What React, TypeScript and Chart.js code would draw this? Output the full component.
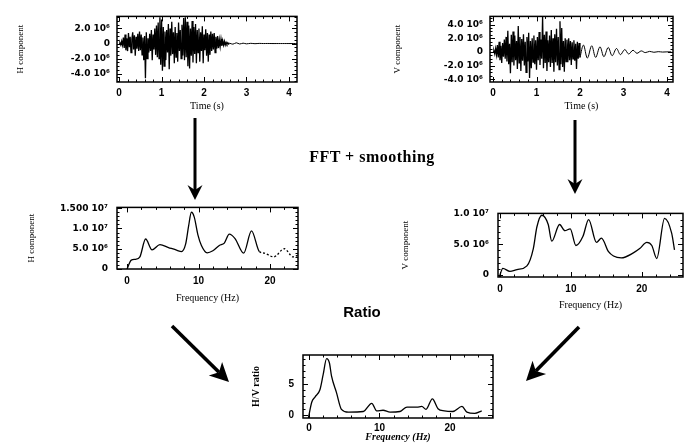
import React, { useEffect, useRef } from 'react';
import { Chart, registerables } from 'chart.js';

Chart.register(...registerables);

const SANS = '"DejaVu Sans", "Liberation Sans", Arial, sans-serif';
const SANS2 = '"Liberation Sans", Arial, sans-serif';
const SERIF = '"Liberation Serif", "Times New Roman", serif';

// ---------------- DATA ----------------
// Sampling step of the seismograms (s)
const DT = 0.02;

// H component seismogram, units of 1e6, t = 0 .. 2.60 s every DT
const H_TRACE = [
  0, 0.1, -0.2, 0.3, -0.2,
  0.8, -0.6, 1.2, -0.9, 0.7, -1.0, 1.4, -0.5, 0.9, -1.2, 0.6,
  1.5, -0.8, 1.1, -1.6, 0.9, -0.7, 1.3, -1.0, 1.6, -0.9,
  1.2, -1.5, 0.8, -2.2, 1.0, -4.6, 1.5, -2.0, 0.7, -1.2,
  1.3, -1.0, 1.8, -2.2, 1.2, -0.8, 2.0, -1.5, 2.4, -1.8,
  2.8, -2.0, 3.5, -2.8, 3.2, -3.6, 2.2, -3.0, 1.6, -2.2,
  1.8, -1.2, 2.6, -3.4, 2.0, -1.6, 2.9, -1.4, 1.5, -2.6,
  2.2, -1.8, 1.4, -2.4, 2.8, -1.0, 1.8, -2.0, 2.5, -1.6,
  3.4, -2.2, 3.5, -1.8, 2.9, -3.0, 2.4, -3.3, 2.0, -1.6,
  3.0, -2.5, 2.2, -1.4, 2.6, -2.6, 1.8, -1.2, 2.0, -2.4,
  1.5, -1.0, 2.3, -2.6, 1.2, -0.9, 1.9, -1.6, 1.4, -2.4,
  1.2, -1.5, 1.6, -1.0, 1.3, -0.8, 1.4, -1.2, 0.9, -0.7,
  1.0, -0.6, 0.5, -0.4, 0.6, -0.3, 0.4, -0.2, 0.3, -0.2,
  0.15, -0.1, 0.1, -0.05, 0.05,
];
const H_TAIL_T = [2.6, 2.68, 2.76, 2.84, 2.92, 3.0, 3.1, 3.2, 3.3, 3.4, 3.5, 3.6, 3.7, 3.8, 3.9, 4.0, 4.1, 4.2];
const H_TAIL_V = [0.05, -0.08, 0.1, -0.06, 0.05, -0.04, 0.03, -0.02, 0.02, 0, 0.01, 0, 0, 0, 0, 0, 0, 0];

// V component seismogram, units of 1e6, t = 0 .. 2.00 s every DT
const V_TRACE = [
  0, 0.2, -0.3, 0.5, -0.4,
  1.0, -0.8, 1.5, -1.2, 0.9, -1.6, 1.3, -0.7, 1.8, -1.0,
  2.2, -1.4, 3.1, -1.8, 1.2, -3.1, 2.5, -1.5, 3.0, -2.0,
  2.4, -1.2, 1.6, -2.5, 3.8, -1.6, 2.2, -2.8, 1.9, -1.3,
  2.6, -2.0, 1.5, -3.0, 2.2, -1.4, 2.8, -3.8, 1.6, -2.4,
  2.0, -1.5, 2.4, -1.8, 1.7, -2.6, 2.2, -1.2, 2.9, -1.9,
  1.8, -1.0, 5.2, -2.4, 2.5, -1.6, 3.0, -2.8, 1.7, -1.5,
  2.4, -2.2, 3.2, -1.6, 2.0, -2.9, 2.6, -1.5, 3.4, -2.0,
  2.2, -2.6, 4.5, -1.8, 3.5, -2.2, 1.6, -2.9, 2.0, -1.4,
  1.8, -1.5, 2.0, -1.2, 1.6, -1.9, 1.4, -1.0, 1.7, -1.3,
  1.2, -2.5, 1.5, -1.0, 1.3, -0.8,
];
const V_TAIL_T = [2.0, 2.08, 2.17, 2.27, 2.36, 2.46, 2.55, 2.65, 2.74, 2.84, 2.93, 3.03, 3.12, 3.22, 3.31, 3.41, 3.5, 3.6, 3.7, 3.8, 3.9, 4.0, 4.1];
const V_TAIL_V = [-0.8, 1.0, -0.9, 0.9, -0.8, 0.75, -0.7, 0.65, -0.55, 0.5, -0.4, 0.35, -0.3, 0.25, -0.2, 0.15, -0.1, 0.08, -0.05, 0.04, -0.02, 0.01, 0];

// H spectrum (units 1e6)
const HS_FREQ = [0, 0.6, 1.2, 1.8, 2.6, 3.5, 4.6, 5.8, 7.0, 7.6, 8.2, 8.6, 9.0, 9.4, 9.9, 10.4, 11.2, 12.0, 12.9, 13.6, 14.3, 15.1, 16.3, 17.4, 18.5, 19.2, 20.5, 22.0, 23.2, 24.0];
const HS_AMP = [0, 2.2, 2.4, 3.0, 7.4, 4.7, 6.0, 5.3, 4.6, 4.3, 6.2, 10.5, 14.0, 12.8, 8.5, 5.8, 4.0, 4.5, 5.8, 6.4, 8.6, 7.5, 3.9, 9.4, 4.3, 3.9, 3.0, 5.0, 3.0, 3.5];

// V spectrum (units 1e6)
const VS_FREQ = [-0.1, 0.4, 1.4, 2.4, 3.8, 4.7, 5.2, 5.9, 6.8, 7.3, 8.4, 9.15, 9.9, 10.7, 11.7, 12.5, 13.6, 14.3, 15.3, 16.0, 17.1, 18.8, 19.7, 20.7, 21.4, 22.1, 23.2, 24.2, 24.6];
const VS_AMP = [-0.3, 1.1, 0.6, 0.9, 1.5, 4.3, 7.8, 9.7, 8.2, 5.5, 8.2, 7.2, 7.5, 4.8, 6.3, 9.0, 5.3, 6.0, 3.8, 3.1, 2.8, 3.6, 4.3, 5.3, 4.8, 2.7, 9.2, 6.8, 4.1];

// H/V ratio
const HV_FREQ = [-0.1, 0.4, 0.85, 1.55, 2.0, 2.5, 2.9, 3.2, 3.9, 4.6, 5.6, 7.7, 8.9, 9.6, 10.5, 11.5, 12.9, 13.9, 15.3, 16.0, 16.6, 17.5, 18.3, 19.2, 20.4, 21.7, 22.4, 23.5, 24.5];
const HV_RATIO = [-0.5, 2.1, 2.9, 4.05, 6.4, 9.0, 8.3, 6.2, 3.6, 0.95, 0.5, 0.6, 1.9, 0.7, 0.8, 0.5, 0.6, 1.3, 1.3, 1.4, 0.95, 2.6, 1.05, 0.7, 0.6, 1.4, 0.5, 0.3, 0.7];

// Tick values and labels
const TIME_TICKS = [0, 1, 2, 3, 4];
const TIME_LABELS = ['0', '1', '2', '3', '4'];
const FREQ_TICKS = [0, 10, 20];
const FREQ_LABELS = ['0', '10', '20'];
const H_TRACE_TICKS = [2, 0, -2, -4];
const H_TRACE_LABELS = ['2.0 10⁶', '0', '-2.0 10⁶', '-4.0 10⁶'];
const V_TRACE_TICKS = [4, 2, 0, -2, -4];
const V_TRACE_LABELS = ['4.0 10⁶', '2.0 10⁶', '0', '-2.0 10⁶', '-4.0 10⁶'];
const HS_TICKS = [15, 10, 5, 0];
const HS_LABELS = ['1.500 10⁷', '1.0 10⁷', '5.0 10⁶', '0'];
const VS_TICKS = [10, 5, 0];
const VS_LABELS = ['1.0 10⁷', '5.0 10⁶', '0'];
const HV_TICKS = [5, 0];
const HV_LABELS = ['5', '0'];

const zip = (xs: number[], ys: number[]) => ys.map((y, i) => ({ x: xs[i], y }));
const traceTimes = (vals: number[]) => vals.map((_, i) => +(i * DT).toFixed(2));

// ---------------- PLUGIN: box frame with inward ticks ----------------
const framePlugin = {
  id: 'frame',
  afterDatasetsDraw(chart: any, _args: any, o: any) {
    const { ctx, chartArea: a, scales } = chart;
    const x = scales.x, y = scales.y;
    ctx.save();
    ctx.strokeStyle = '#000';
    ctx.lineWidth = 1.5;
    ctx.strokeRect(a.left, a.top, a.right - a.left, a.bottom - a.top);
    ctx.lineWidth = 1;
    const isMajor = (v: number, m: number) => Math.abs(v / m - Math.round(v / m)) < 1e-6;
    const i0 = Math.ceil(x.min / o.xMinor - 1e-9), i1 = Math.floor(x.max / o.xMinor + 1e-9);
    ctx.beginPath();
    for (let i = i0; i <= i1; i++) {
      const v = i * o.xMinor;
      const len = isMajor(v, o.xMajor) ? 5 : 2.5;
      const px = Math.round(x.getPixelForValue(v)) + 0.5;
      ctx.moveTo(px, a.bottom); ctx.lineTo(px, a.bottom - len);
      ctx.moveTo(px, a.top); ctx.lineTo(px, a.top + len);
    }
    const j0 = Math.ceil(y.min / o.yMinor - 1e-9), j1 = Math.floor(y.max / o.yMinor + 1e-9);
    for (let j = j0; j <= j1; j++) {
      const v = j * o.yMinor;
      const len = isMajor(v, o.yMajor) ? 5 : 2.5;
      const py = Math.round(y.getPixelForValue(v)) + 0.5;
      ctx.moveTo(a.left, py); ctx.lineTo(a.left + len, py);
      ctx.moveTo(a.right, py); ctx.lineTo(a.right - len, py);
    }
    ctx.stroke();
    ctx.restore();
  },
};

type PanelCfg = {
  box: [number, number, number, number];
  yTitleX: number;
  xTitleY: number;
  xRange: [number, number];
  yRange: [number, number];
  xTicks: number[]; xLabels: string[];
  yTicks: number[]; yLabels: string[];
  xMinor: number; xMajor: number; yMinor: number; yMajor: number;
  xTitle: string; yTitle: string;
  xTitleFont: any; yTitleFont: any;
  xTickFont: any; yTickFont: any;
  xTickPad: number; yTickPad: number;
  datasets: any[];
};

const PAD_T = 8;
const PAD_R = 14;

function Panel({ p }: { p: PanelCfg }) {
  const ref = useRef<HTMLCanvasElement | null>(null);
  const [L, T, R, B] = p.box;
  const cl = Math.round(p.yTitleX - (p.yTitleFont.size * 1.2) / 2);
  const ct = T - PAD_T;
  const cr = R + PAD_R;
  const cb = Math.round(p.xTitleY + (p.xTitleFont.size * 1.2) / 2);
  const W = cr - cl, H = cb - ct;

  useEffect(() => {
    if (!ref.current) return;
    const tickLabel = (ticks: number[], labels: string[]) => (v: any) => {
      const i = ticks.findIndex((t) => Math.abs(t - v) < 1e-9);
      return i >= 0 ? labels[i] : '';
    };
    const chart = new Chart(ref.current, {
      type: 'line',
      data: { datasets: p.datasets },
      plugins: [framePlugin],
      options: {
        animation: false,
        responsive: false,
        maintainAspectRatio: false,
        devicePixelRatio: 1,
        events: [],
        layout: { padding: { left: 0, top: PAD_T, right: PAD_R, bottom: 0 } },
        elements: { point: { radius: 0 } },
        plugins: {
          legend: { display: false },
          tooltip: { enabled: false },
          frame: { xMinor: p.xMinor, xMajor: p.xMajor, yMinor: p.yMinor, yMajor: p.yMajor },
        } as any,
        scales: {
          x: {
            type: 'linear',
            min: p.xRange[0],
            max: p.xRange[1],
            grid: { display: false, drawTicks: false },
            border: { display: false },
            afterBuildTicks: (s: any) => { s.ticks = p.xTicks.map((v) => ({ value: v })); },
            afterFit: (s: any) => { s.height = cb - B; },
            ticks: {
              padding: p.xTickPad, color: '#000', font: p.xTickFont,
              autoSkip: false, maxRotation: 0, callback: tickLabel(p.xTicks, p.xLabels),
            },
            title: { display: true, text: p.xTitle, color: '#000', font: p.xTitleFont, padding: 0 },
          },
          y: {
            type: 'linear',
            min: p.yRange[0],
            max: p.yRange[1],
            grid: { display: false, drawTicks: false },
            border: { display: false },
            afterBuildTicks: (s: any) => { s.ticks = p.yTicks.map((v) => ({ value: v })); },
            afterFit: (s: any) => { s.width = L - cl; },
            ticks: {
              padding: p.yTickPad, color: '#000', font: p.yTickFont,
              autoSkip: false, callback: tickLabel(p.yTicks, p.yLabels),
            },
            title: { display: true, text: p.yTitle, color: '#000', font: p.yTitleFont, padding: 0 },
          },
        },
      } as any,
    });
    return () => chart.destroy();
  }, []);

  return (
    <canvas
      ref={ref}
      width={W}
      height={H}
      style={{ position: 'absolute', left: cl, top: ct, width: W, height: H }}
    />
  );
}

const tickFontY = { family: SANS, size: 9, weight: 'bold' };
const tickFontX = { family: SANS2, size: 10, weight: 'bold' };
const titleFontX = { family: SERIF, size: 10 };
const titleFontY = { family: SERIF, size: 9 };

const traceLine = { borderColor: '#000', borderWidth: 1.3, tension: 0, pointRadius: 0, fill: false };
const specLine = { borderColor: '#000', borderWidth: 1.3, cubicInterpolationMode: 'monotone', pointRadius: 0, fill: false };

const PANELS: PanelCfg[] = [
  {
    box: [117, 12, 297, 82], yTitleX: 20, xTitleY: 106,
    xRange: [-0.05, 4.19], yRange: [-5.1, 3.6],
    xTicks: TIME_TICKS, xLabels: TIME_LABELS, yTicks: H_TRACE_TICKS, yLabels: H_TRACE_LABELS,
    xMinor: 0.2, xMajor: 1, yMinor: 0.5, yMajor: 2,
    xTitle: 'Time (s)', yTitle: 'H component',
    xTitleFont: titleFontX, yTitleFont: titleFontY, xTickFont: tickFontX, yTickFont: tickFontY,
    xTickPad: 5, yTickPad: 7,
    datasets: [
      { ...traceLine, data: zip(traceTimes(H_TRACE), H_TRACE) },
      { ...traceLine, borderWidth: 1, tension: 0.3, data: zip(H_TAIL_T, H_TAIL_V) },
    ],
  },
  {
    box: [490, 12, 673, 82], yTitleX: 397, xTitleY: 106,
    xRange: [-0.07, 4.14], yRange: [-4.4, 5.2],
    xTicks: TIME_TICKS, xLabels: TIME_LABELS, yTicks: V_TRACE_TICKS, yLabels: V_TRACE_LABELS,
    xMinor: 0.2, xMajor: 1, yMinor: 0.5, yMajor: 2,
    xTitle: 'Time (s)', yTitle: 'V component',
    xTitleFont: titleFontX, yTitleFont: titleFontY, xTickFont: tickFontX, yTickFont: tickFontY,
    xTickPad: 5, yTickPad: 7,
    datasets: [
      { ...traceLine, data: zip(traceTimes(V_TRACE), V_TRACE) },
      { ...traceLine, borderWidth: 1, tension: 0.35, data: zip(V_TAIL_T, V_TAIL_V) },
    ],
  },
  {
    box: [117, 201, 298, 269], yTitleX: 31, xTitleY: 298,
    xRange: [-1.4, 23.9], yRange: [0, 15.2],
    xTicks: FREQ_TICKS, xLabels: FREQ_LABELS, yTicks: HS_TICKS, yLabels: HS_LABELS,
    xMinor: 2, xMajor: 10, yMinor: 1, yMajor: 5,
    xTitle: 'Frequency (Hz)', yTitle: 'H component',
    xTitleFont: titleFontX, yTitleFont: titleFontY, xTickFont: tickFontX, yTickFont: tickFontY,
    xTickPad: 6, yTickPad: 9,
    datasets: [
      {
        ...specLine, data: zip(HS_FREQ, HS_AMP),
        segment: { borderDash: (c: any) => (c.p0.parsed.x >= 18.5 ? [2, 2] : undefined) },
      },
    ],
  },
  {
    box: [498, 207, 683, 277], yTitleX: 405, xTitleY: 305,
    xRange: [-0.28, 25.8], yRange: [-0.3, 10.0],
    xTicks: FREQ_TICKS, xLabels: FREQ_LABELS, yTicks: VS_TICKS, yLabels: VS_LABELS,
    xMinor: 2, xMajor: 10, yMinor: 1, yMajor: 5,
    xTitle: 'Frequency (Hz)', yTitle: 'V component',
    xTitleFont: titleFontX, yTitleFont: titleFontY, xTickFont: tickFontX, yTickFont: tickFontY,
    xTickPad: 6, yTickPad: 9,
    datasets: [{ ...specLine, data: zip(VS_FREQ, VS_AMP) }],
  },
  {
    box: [303, 348, 493, 418], yTitleX: 256, xTitleY: 437,
    xRange: [-0.85, 26.1], yRange: [-0.43, 9.57],
    xTicks: FREQ_TICKS, xLabels: FREQ_LABELS, yTicks: HV_TICKS, yLabels: HV_LABELS,
    xMinor: 2, xMajor: 10, yMinor: 1, yMajor: 5,
    xTitle: 'Frequency (Hz)', yTitle: 'H/V ratio',
    xTitleFont: { family: SERIF, size: 10, weight: 'bold', style: 'italic' },
    yTitleFont: { family: SERIF, size: 10, weight: 'bold' },
    xTickFont: tickFontX, yTickFont: tickFontX,
    xTickPad: 4, yTickPad: 9,
    datasets: [{ ...specLine, data: zip(HV_FREQ, HV_RATIO) }],
  },
];

// Arrow layout (pixels): x1, y1, x2 (tip), y2 (tip), head length, head half-width, shaft width
const ARROWS: [number, number, number, number, number, number, number][] = [
  [195, 118, 195, 200, 15, 7.5, 3],
  [575, 120, 575, 194, 15, 7.5, 3],
  [172, 326, 229, 382, 19, 9.5, 3.6],
  [579, 327, 526, 381, 19, 9.5, 3.6],
];

function Arrow({ a }: { a: [number, number, number, number, number, number, number] }) {
  const [x1, y1, x2, y2, hl, hw, sw] = a;
  const dx = x2 - x1, dy = y2 - y1;
  const len = Math.hypot(dx, dy);
  const ux = dx / len, uy = dy / len;
  const nx = -uy, ny = ux;
  const bx = x2 - ux * hl, by = y2 - uy * hl;
  const notchX = x2 - ux * (hl - 5), notchY = y2 - uy * (hl - 5);
  const pts = [
    [x2, y2],
    [bx + nx * hw, by + ny * hw],
    [notchX, notchY],
    [bx - nx * hw, by - ny * hw],
  ].map((p) => p.join(',')).join(' ');
  return (
    <g>
      <line x1={x1} y1={y1} x2={notchX} y2={notchY} stroke="#000" strokeWidth={sw} />
      <polygon points={pts} fill="#000" />
    </g>
  );
}

export default function App() {
  useEffect(() => {
    document.body.style.margin = '0';
  }, []);
  return (
    <div style={{ position: 'fixed', left: 0, top: 0, width: 690, height: 447, background: '#fff', overflow: 'hidden' }}>
      {PANELS.map((p, i) => <Panel key={i} p={p} />)}
      <svg width={690} height={447} style={{ position: 'absolute', left: 0, top: 0, pointerEvents: 'none' }}>
        {ARROWS.map((a, i) => <Arrow key={i} a={a} />)}
      </svg>
      <div style={{
        position: 'absolute', left: 372, top: 157, transform: 'translate(-50%, -50%)',
        fontFamily: SERIF, fontWeight: 'bold', fontSize: 16, letterSpacing: 0.5, whiteSpace: 'nowrap', color: '#000',
      }}>FFT + smoothing</div>
      <div style={{
        position: 'absolute', left: 362, top: 311, transform: 'translate(-50%, -50%)',
        fontFamily: SANS2, fontWeight: 'bold', fontSize: 15, whiteSpace: 'nowrap', color: '#000',
      }}>Ratio</div>
    </div>
  );
}
